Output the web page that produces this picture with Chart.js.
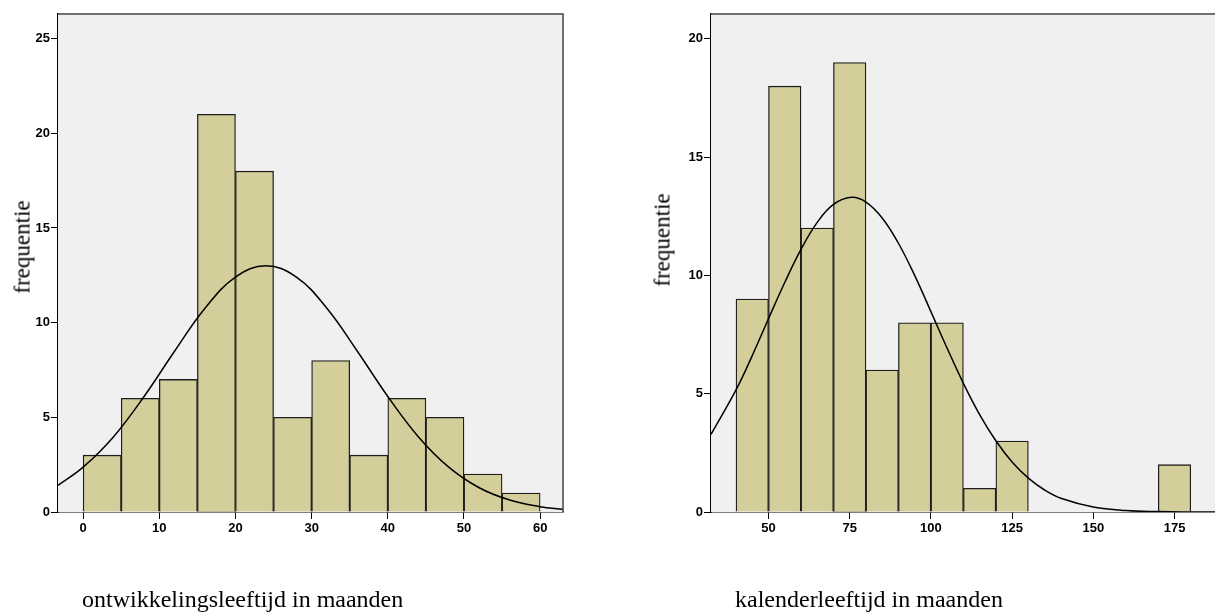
<!DOCTYPE html>
<html>
<head>
<meta charset="utf-8">
<script src="https://cdn.jsdelivr.net/npm/chart.js@4/dist/chart.umd.min.js"></script>
<style>
  html, body { margin: 0; padding: 0; background: #fff; overflow: hidden; }
  body { width: 1215px; height: 613px; position: relative; }
  .box { position: absolute; top: 0; height: 613px; }
  .xtitle, .ytitle {
    position: absolute; font-family: "Liberation Serif", "Times New Roman", serif;
    font-size: 24px; line-height: 1; color: #000; white-space: nowrap;
  }
  .ytitle { font-size: 23px; transform: translate(-50%, -50%) rotate(-90deg); }
</style>
</head>
<body>
<div class="box" style="left:0;width:600px"><canvas id="left"></canvas></div>
<div class="box" style="left:640px;width:600px"><canvas id="right"></canvas></div>
<div class="ytitle" style="left:22px;top:247px">frequentie</div>
<div class="ytitle" style="left:662px;top:240px">frequentie</div>
<div class="xtitle" style="left:82px;top:587px">ontwikkelingsleeftijd in maanden</div>
<div class="xtitle" style="left:735px;top:587px">kalenderleeftijd in maanden</div>
<script>
// left histogram: ontwikkelingsleeftijd (bins of 5)
const leftBinCenters = [2.5, 7.5, 12.5, 17.5, 22.5, 27.5, 32.5, 37.5, 42.5, 47.5, 52.5, 57.5];
const leftCounts = [3, 6, 7, 21, 18, 5, 8, 3, 6, 5, 2, 1];
const leftCurveX = [-3.3, 0, 4, 8, 12, 16, 20, 24, 28, 32, 36, 40, 44, 48, 52, 56, 60, 63];
const leftCurveY = [1.41, 2.37, 3.98, 6.10, 8.49, 10.76, 12.40, 13.0, 12.40, 10.76, 8.49, 6.10, 3.98, 2.37, 1.28, 0.63, 0.28, 0.14];
const leftXTicks = [0, 10, 20, 30, 40, 50, 60];
const leftYTicks = [0, 5, 10, 15, 20, 25];

// right histogram: kalenderleeftijd (bins of 10)
const rightBinCenters = [45, 55, 65, 75, 85, 95, 105, 115, 125, 175];
const rightCounts = [9, 18, 12, 19, 6, 8, 8, 1, 3, 2];
const rightCurveX = [32.3, 40, 45, 50, 55, 60, 65, 70, 75.5, 80, 85, 90, 95, 100, 105, 110, 115, 120, 125, 130, 135, 140, 150, 160, 170, 180, 189];
const rightCurveY = [3.28, 5.16, 6.61, 8.17, 9.70, 11.10, 12.24, 13.00, 13.3, 13.10, 12.43, 11.36, 10.0, 8.47, 6.92, 5.44, 4.12, 3.01, 2.11, 1.43, 0.93, 0.58, 0.21, 0.06, 0.016, 0.003, 0.001];
const rightXTicks = [50, 75, 100, 125, 150, 175];
const rightYTicks = [0, 5, 10, 15, 20];

const plotFrame = {
  id: "plotFrame",
  beforeDatasetsDraw(chart) {
    const { ctx, chartArea: a } = chart;
    ctx.save();
    ctx.fillStyle = "#f0f0f0";
    ctx.fillRect(a.left, a.top, a.right - a.left, a.bottom - a.top);
    ctx.restore();
  },
  afterDraw(chart) {
    const { ctx, chartArea: a } = chart;
    ctx.save();
    ctx.strokeStyle = "#444";
    ctx.lineWidth = 1.5;
    ctx.beginPath();
    ctx.moveTo(a.left, a.top);
    ctx.lineTo(a.right, a.top);
    ctx.lineTo(a.right, a.bottom);
    ctx.stroke();
    ctx.restore();
  }
};

const tickFont = { family: "'Liberation Sans', Arial, sans-serif", size: 13, weight: "bold" };

function makeChart(id, o) {
  const bars = o.centers.map((x, i) => ({ x, y: o.counts[i] }));
  const curve = o.curveX.map((x, i) => ({ x, y: o.curveY[i] }));
  return new Chart(document.getElementById(id), {
    type: "bar",
    data: {
      datasets: [
        {
          type: "line",
          data: curve,
          borderColor: "#000",
          borderWidth: 1.5,
          pointRadius: 0,
          tension: 0.4,
          fill: false,
          order: 0
        },
        {
          data: bars,
          backgroundColor: "#d3ce9a",
          borderColor: "#1e1e1e",
          borderWidth: 1.3,
          categoryPercentage: 1,
          barPercentage: 1,
          order: 1
        }
      ]
    },
    options: {
      responsive: true,
      maintainAspectRatio: false,
      animation: false,
      layout: { padding: { top: 14, right: o.padRight, left: 0, bottom: 0 } },
      plugins: { legend: { display: false }, tooltip: { enabled: false } },
      scales: {
        x: {
          type: "linear",
          offset: false,
          min: o.xMin,
          max: o.xMax,
          afterBuildTicks: (s) => { s.ticks = o.xTicks.map((v) => ({ value: v })); },
          afterFit: (s) => { s.height = 101; },
          ticks: { color: "#000", font: tickFont, padding: 2, maxRotation: 0, autoSkip: false },
          grid: { offset: false, drawOnChartArea: false, drawTicks: true, tickLength: 7, tickColor: "#000" },
          border: { color: "#000", width: 1.5 }
        },
        y: {
          min: 0,
          max: o.yMax,
          afterBuildTicks: (s) => { s.ticks = o.yTicks.map((v) => ({ value: v })); },
          afterFit: (s) => { s.width = o.yWidth; },
          ticks: { color: "#000", font: tickFont, padding: 1 },
          grid: { drawOnChartArea: false, drawTicks: true, tickLength: 7, tickColor: "#000" },
          border: { color: "#000", width: 1.5 }
        }
      }
    },
    plugins: [plotFrame]
  });
}

makeChart("left", {
  centers: leftBinCenters, counts: leftCounts,
  curveX: leftCurveX, curveY: leftCurveY,
  xTicks: leftXTicks, yTicks: leftYTicks,
  xMin: -3.3, xMax: 63, yMax: 26.3, yWidth: 58, padRight: 37
});

makeChart("right", {
  centers: rightBinCenters, counts: rightCounts,
  curveX: rightCurveX, curveY: rightCurveY,
  xTicks: rightXTicks, yTicks: rightYTicks,
  xMin: 32.3, xMax: 189, yMax: 21.05, yWidth: 71, padRight: 20
});
</script>
</body>
</html>
